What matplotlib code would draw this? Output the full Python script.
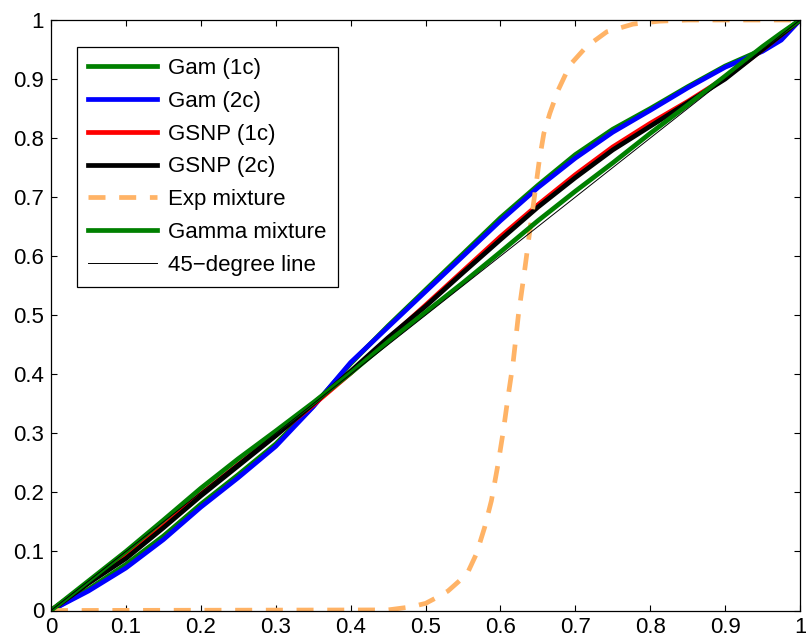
import matplotlib
matplotlib.use("Agg")
import matplotlib.pyplot as plt

plt.rcParams['font.family'] = ['Liberation Sans', 'DejaVu Sans']

# common probability grid for the PP curves
p = [0, 0.05, 0.1, 0.15, 0.2, 0.25, 0.3, 0.35, 0.4, 0.45, 0.5, 0.55,
     0.6, 0.65, 0.7, 0.75, 0.8, 0.85, 0.9, 0.95, 0.975, 1]

gam_1c = [0, 0.036, 0.078, 0.126, 0.18, 0.23, 0.282, 0.346, 0.418, 0.482,
          0.543, 0.604, 0.665, 0.72, 0.772, 0.815, 0.85, 0.887, 0.922, 0.95,
          0.97, 1]
gam_2c = [0, 0.033, 0.072, 0.12, 0.175, 0.225, 0.278, 0.345, 0.42, 0.48,
          0.54, 0.6, 0.66, 0.716, 0.766, 0.81, 0.847, 0.885, 0.92, 0.947,
          0.966, 1]
gsnp_1c = [0, 0.047, 0.092, 0.143, 0.197, 0.247, 0.297, 0.348, 0.402, 0.46,
           0.517, 0.575, 0.633, 0.687, 0.738, 0.785, 0.825, 0.862, 0.902,
           0.95, 0.975, 1]
gsnp_2c = [0, 0.046, 0.088, 0.14, 0.194, 0.245, 0.296, 0.35, 0.405, 0.462,
           0.515, 0.572, 0.628, 0.683, 0.733, 0.78, 0.82, 0.86, 0.9, 0.95,
           0.975, 1]
gamma_mix = [0, 0.05, 0.1, 0.153, 0.207, 0.257, 0.304, 0.352, 0.402, 0.455,
             0.505, 0.555, 0.607, 0.66, 0.71, 0.758, 0.808, 0.856, 0.905,
             0.955, 0.978, 1]

exp_x = [0, 0.45, 0.48, 0.5, 0.515, 0.53, 0.546, 0.557, 0.568, 0.579, 0.588,
         0.597, 0.604, 0.61, 0.617, 0.624, 0.633, 0.64, 0.646, 0.652, 0.658,
         0.666, 0.677, 0.693, 0.715, 0.742, 0.777, 0.812, 0.85, 1]
exp_mix = [0, 0.001, 0.006, 0.012, 0.022, 0.033, 0.051, 0.066, 0.096, 0.141,
           0.186, 0.249, 0.305, 0.36, 0.42, 0.5, 0.582, 0.65, 0.706, 0.763,
           0.808, 0.842, 0.881, 0.924, 0.955, 0.98, 0.993, 0.998, 1.0, 1.0]

diag = [0, 1]

labels = ['Gam (1c)', 'Gam (2c)', 'GSNP (1c)', 'GSNP (2c)', 'Exp mixture',
          'Gamma mixture', '45\u2212degree line']
ticks = [0, 0.1, 0.2, 0.3, 0.4, 0.5, 0.6, 0.7, 0.8, 0.9, 1]
ticklabels = ['0', '0.1', '0.2', '0.3', '0.4', '0.5', '0.6', '0.7', '0.8',
              '0.9', '1']

fig = plt.figure(figsize=(8.06, 6.41), dpi=100)
ax = fig.add_axes([51/806, (641-610.5)/641, 749/806, 590.5/641])

green = (0, 0.5, 0)
lw = 3.4
ax.plot(p, gam_1c, color=green, lw=lw, label=labels[0])
ax.plot(p, gam_2c, color=(0, 0, 1), lw=lw, label=labels[1])
ax.plot(p, gsnp_1c, color=(1, 0, 0), lw=lw, label=labels[2])
ax.plot(p, gsnp_2c, color='black', lw=lw, label=labels[3])
ax.plot(exp_x, exp_mix, color='#FFB366', lw=lw, dashes=(3.6, 2.9),
        dash_capstyle='butt', label=labels[4])
ax.plot(p, gamma_mix, color=green, lw=lw, label=labels[5])
ax.plot(diag, diag, color='black', lw=0.7, label=labels[6])

ax.set_xlim(0, 1)
ax.set_ylim(0, 1)
ax.set_xticks(ticks)
ax.set_xticklabels(ticklabels)
ax.set_yticks(ticks)
ax.set_yticklabels(ticklabels)
ax.tick_params(direction='in', length=4.5, width=0.8, top=True, right=True,
               labelsize=16, pad=5)
for s in ax.spines.values():
    s.set_linewidth(0.9)

leg = ax.legend(loc='upper left', bbox_to_anchor=(77/806, 1-47/641),
                bbox_transform=fig.transFigure, borderaxespad=0,
                fontsize=16, frameon=True, fancybox=False, shadow=False,
                handlelength=3.1, handletextpad=0.5, labelspacing=0.53,
                borderpad=0.5, edgecolor='black', framealpha=1)
leg.get_frame().set_linewidth(0.9)

fig.savefig('out.png', dpi=100)
